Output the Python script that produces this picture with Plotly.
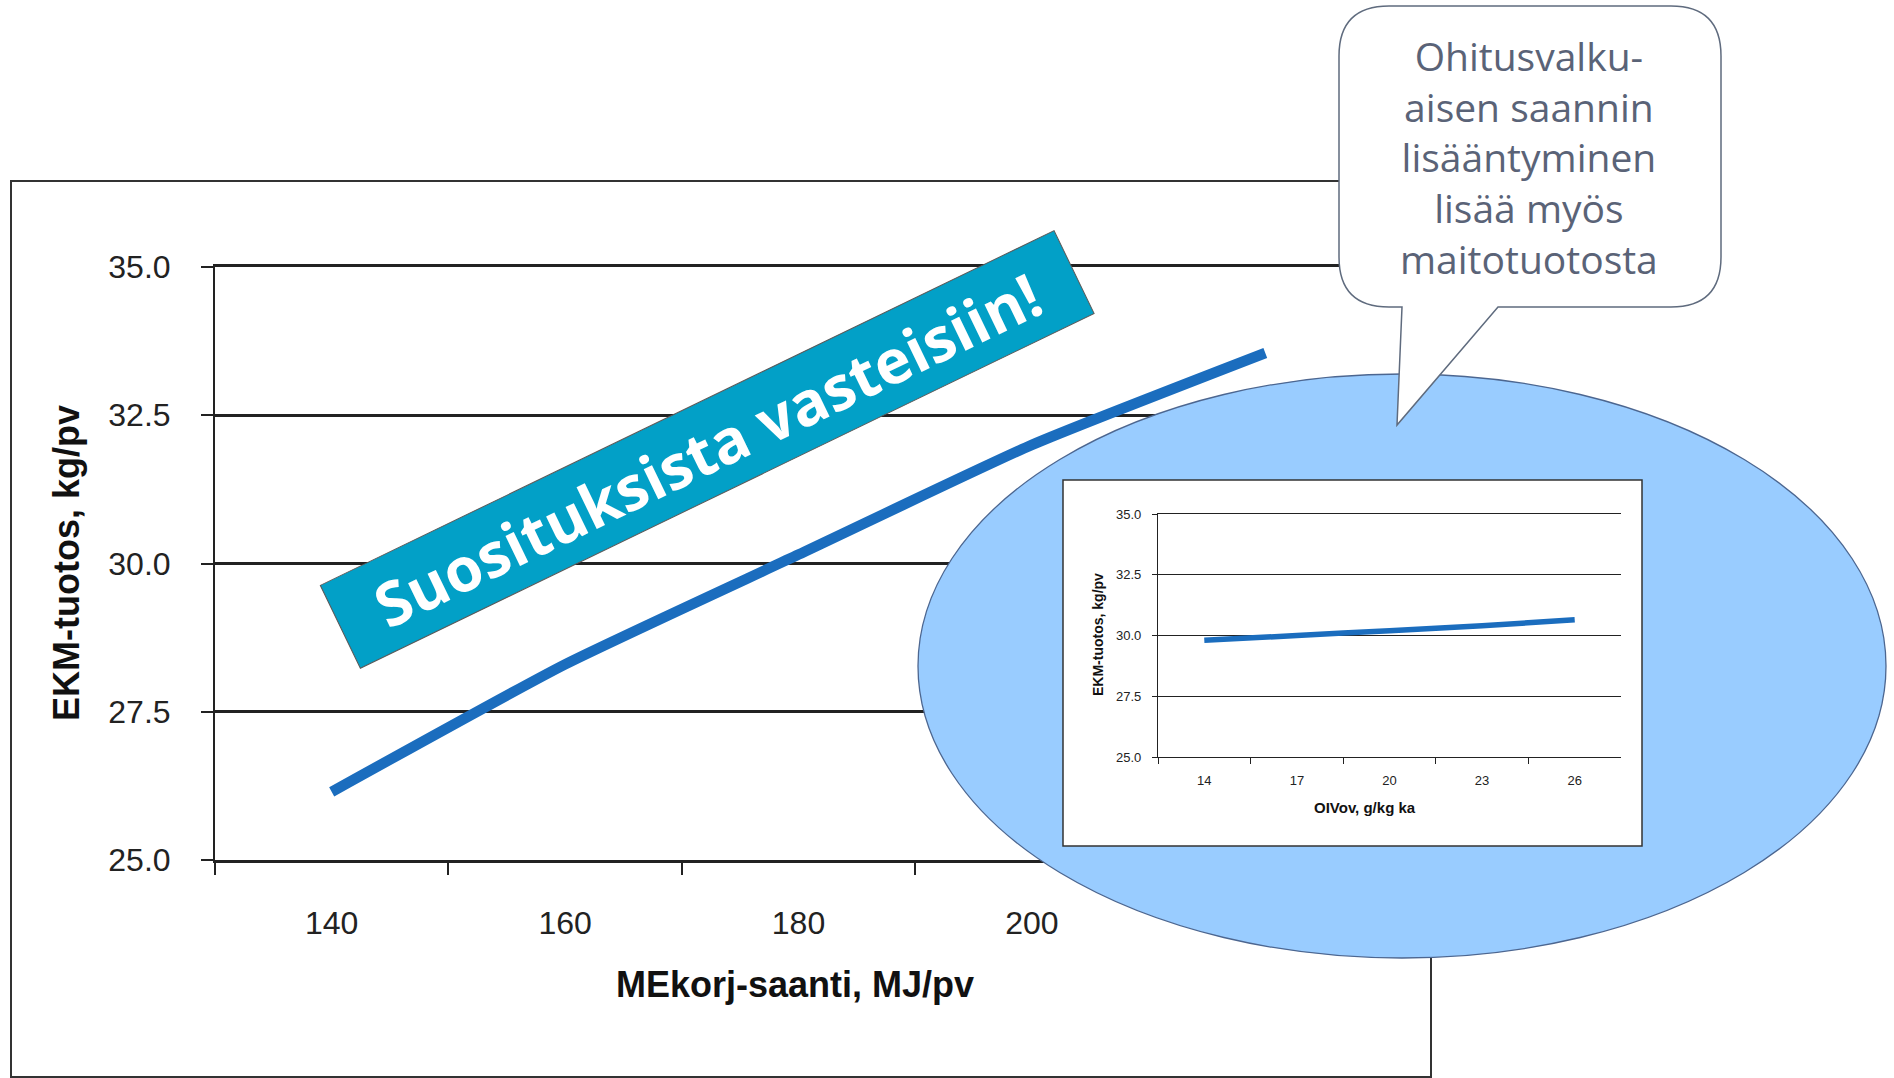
import plotly.graph_objects as go

# ---------------- data ----------------
main_categories = ["140", "160", "180", "200", "220"]
main_values = [26.15, 28.3, 30.15, 32.0, 33.55]
main_yticks = [25.0, 27.5, 30.0, 32.5, 35.0]

inset_categories = ["14", "17", "20", "23", "26"]
inset_values = [29.8, 30.0, 30.2, 30.4, 30.65]

main_xtitle = "MEkorj-saanti, MJ/pv"
main_ytitle = "EKM-tuotos, kg/pv"
inset_xtitle = "OIVov, g/kg ka"
inset_ytitle = "EKM-tuotos, kg/pv"
banner_text = "Suosituksista vasteisiin!"
bubble_lines = ["Ohitusvalku-", "aisen saannin", "lisääntyminen", "lisää myös", "maitotuotosta"]

# ---------------- layout helpers ----------------
W, H = 1894, 1078
def px(x):
    return x / W
def py(y):
    return 1 - y / H

ARIAL = "Liberation Sans, Arial, sans-serif"
SEGOE = "Open Sans, Noto Sans, sans-serif"
INK = "#222222"

fig = go.Figure()

# main line
fig.add_trace(go.Scatter(
    x=main_categories, y=main_values, mode="lines",
    line=dict(color="#1B6DBE", width=10.5, shape="spline", smoothing=0.5),
    xaxis="x", yaxis="y", showlegend=False, hoverinfo="skip"))

# canvas subplot (decorations layer between main chart and inset)
fig.add_trace(go.Scatter(x=[], y=[], xaxis="x2", yaxis="y2", showlegend=False))

# inset line
fig.add_trace(go.Scatter(
    x=inset_categories, y=inset_values, mode="lines",
    line=dict(color="#1B6DBE", width=5.5, shape="spline", smoothing=0.5),
    xaxis="x3", yaxis="y3", showlegend=False, hoverinfo="skip"))

fig.update_layout(
    width=W, height=H, autosize=False,
    margin=dict(l=0, r=0, t=0, b=0, pad=0, autoexpand=False),
    paper_bgcolor="white", plot_bgcolor="rgba(0,0,0,0)",
    showlegend=False,
    xaxis=dict(
        domain=[px(215), px(1382)], type="category", range=[-0.5, 4.5],
        tickson="boundaries", ticks="outside", ticklen=12, tickwidth=2, tickcolor=INK,
        showline=True, mirror=True, linewidth=2.5, linecolor=INK, showgrid=False, zeroline=False,
        tickfont=dict(family=ARIAL, size=32, color=INK), ticklabelstandoff=33,
        anchor="y", fixedrange=True, automargin=False),
    yaxis=dict(
        domain=[py(860), py(267)], range=[25, 35], tickvals=main_yticks, tickformat=".1f",
        ticks="outside", ticklen=12, tickwidth=2, tickcolor=INK,
        showline=True, linewidth=2, linecolor=INK,
        showgrid=True, gridcolor=INK, gridwidth=2.5, zeroline=False,
        tickfont=dict(family=ARIAL, size=32, color=INK), ticklabelstandoff=24,
        anchor="x", fixedrange=True, automargin=False),
    xaxis2=dict(domain=[0, 1], range=[0, W], visible=False, anchor="y2",
                fixedrange=True, automargin=False),
    yaxis2=dict(domain=[0, 1], range=[H, 0], visible=False, anchor="x2",
                fixedrange=True, automargin=False),
    xaxis3=dict(
        domain=[px(1158), px(1621)], type="category", range=[-0.5, 4.5],
        tickson="boundaries", ticks="outside", ticklen=6, tickwidth=1.2, tickcolor=INK,
        showline=True, mirror=True, linewidth=1.3, linecolor=INK, showgrid=False, zeroline=False,
        tickfont=dict(family=ARIAL, size=13, color=INK), ticklabelstandoff=11,
        anchor="y3", fixedrange=True, automargin=False),
    yaxis3=dict(
        domain=[py(757), py(514)], range=[25, 35], tickvals=main_yticks, tickformat=".1f",
        ticks="outside", ticklen=5, tickwidth=1.2, tickcolor=INK,
        showline=True, linewidth=1.2, linecolor=INK,
        showgrid=True, gridcolor=INK, gridwidth=1.2, zeroline=False,
        tickfont=dict(family=ARIAL, size=13, color=INK), ticklabelstandoff=8,
        anchor="x3", fixedrange=True, automargin=False),
)

# ---------------- shapes ----------------
shapes = []
# main chart frame (bottom layer)
shapes.append(dict(type="rect", xref="paper", yref="paper", layer="below",
                   x0=px(11), x1=px(1431), y0=py(1077), y1=py(181),
                   line=dict(color="#333333", width=2), fillcolor="rgba(0,0,0,0)"))
# ellipse
shapes.append(dict(type="circle", xref="x2", yref="y2", layer="below",
                   x0=918, x1=1886, y0=374, y1=958,
                   line=dict(color="#4C6690", width=1.3), fillcolor="#99CCFF"))
# inset white box
shapes.append(dict(type="rect", xref="x2", yref="y2", layer="below",
                   x0=1063, x1=1642, y0=480, y1=846,
                   line=dict(color="#333333", width=1.5), fillcolor="white"))
# speech bubble
L, R, T, B, r = 1339, 1721, 6, 307, 50
tail_l, tail_r, tip_x, tip_y = 1402, 1498, 1397, 425
path = (f"M {L+r},{T} L {R-r},{T} Q {R},{T} {R},{T+r} L {R},{B-r} Q {R},{B} {R-r},{B} "
        f"L {tail_r},{B} L {tip_x},{tip_y} L {tail_l},{B} L {L+r},{B} Q {L},{B} {L},{B-r} "
        f"L {L},{T+r} Q {L},{T} {L+r},{T} Z")
shapes.append(dict(type="path", xref="x2", yref="y2", layer="below", path=path,
                   line=dict(color="#5F6B7E", width=1.5), fillcolor="white"))
fig.update_layout(shapes=shapes)

# ---------------- text ----------------
ann = []
ann.append(dict(text=main_xtitle, x=px(795), y=py(984), xref="paper", yref="paper",
                showarrow=False, xanchor="center", yanchor="middle",
                font=dict(family=ARIAL, size=36, color="#111111", weight="bold")))
ann.append(dict(text=main_ytitle, x=px(66), y=py(563), xref="paper", yref="paper",
                showarrow=False, xanchor="center", yanchor="middle", textangle=-90,
                font=dict(family=ARIAL, size=36, color="#111111", weight="bold")))
ann.append(dict(text=inset_xtitle, x=px(1365), y=py(807), xref="paper", yref="paper",
                showarrow=False, xanchor="center", yanchor="middle",
                font=dict(family=ARIAL, size=15, color="#111111", weight="bold")))
ann.append(dict(text=inset_ytitle, x=px(1098), y=py(635), xref="paper", yref="paper",
                showarrow=False, xanchor="center", yanchor="middle", textangle=-90,
                font=dict(family=ARIAL, size=14, color="#111111", weight="bold")))
ann.append(dict(text="<br>".join(bubble_lines), x=px(1529), y=py(157), xref="paper", yref="paper",
                showarrow=False, xanchor="center", yanchor="middle", align="center",
                font=dict(family=SEGOE, size=39, color="#5A6377")))
ann.append(dict(text=banner_text, x=px(707), y=py(449), xref="paper", yref="paper",
                showarrow=False, xanchor="center", yanchor="middle", textangle=-25.8,
                width=814, height=91, borderpad=0, borderwidth=1, bordercolor="#5A5A5A",
                bgcolor="#02A0C7",
                font=dict(family=SEGOE, size=61, color="white", weight="bold")))
fig.update_layout(annotations=ann)

fig.write_html("out.html", include_plotlyjs=True, config={"displayModeBar": False},
               post_script="document.body.style.margin='0';document.body.style.overflow='hidden';")
